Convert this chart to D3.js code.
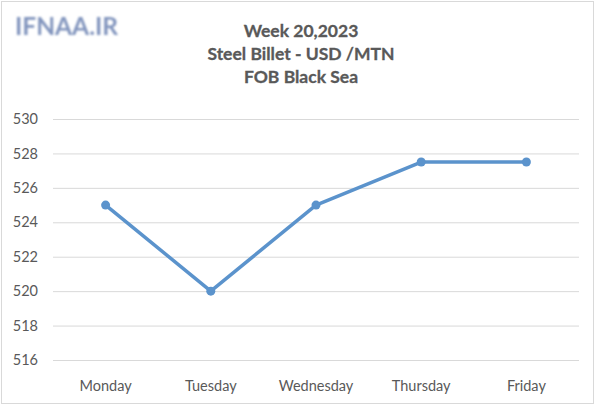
<!DOCTYPE html>
<html>
<head>
<meta charset="utf-8">
<script src="https://cdn.jsdelivr.net/npm/d3@7"></script>
<style>
  body { margin: 0; background: #fff; }
  svg { display: block; }
</style>
</head>
<body>
<div class="chart"></div>
<script>
var days = ['Monday', 'Tuesday', 'Wednesday', 'Thursday', 'Friday'];
var prices = [525, 520, 525, 527.5, 527.5];
var yTicks = [516, 518, 520, 522, 524, 526, 528, 530];
var titleLines = ['Week 20,2023', 'Steel Billet - USD /MTN', 'FOB Black Sea'];

var width = 600,
  height = 405,
  plotLeft = 53,
  plotRight = 579,
  plotTop = 119,
  plotBottom = 360;

var svgEl = d3
  .select('.chart')
  .append('svg')
  .attr('width', width)
  .attr('height', height);

// outer frame
svgEl
  .append('rect')
  .attr('x', 1.5)
  .attr('y', 1.5)
  .attr('width', 592)
  .attr('height', 402)
  .attr('fill', '#fff')
  .attr('stroke', '#d9d9d9');

// watermark
var defs = svgEl.append('defs');
defs
  .append('filter')
  .attr('id', 'blur')
  .append('feGaussianBlur')
  .attr('stdDeviation', 1);

svgEl
  .append('text')
  .attr('x', 15)
  .attr('y', 35)
  .attr('font-family', 'Lato, sans-serif')
  .attr('font-weight', 'bold')
  .attr('font-size', 24)
  .attr('textLength', 103)
  .attr('lengthAdjust', 'spacingAndGlyphs')
  .attr('fill', '#8194bd')
  .attr('filter', 'url(#blur)')
  .text('IFNAA.IR');

svgEl
  .append('g')
  .selectAll('text')
  .data(titleLines)
  .enter()
  .append('text')
  .attr('x', 301)
  .attr('y', (d, i) => 37 + i * 23)
  .attr('text-anchor', 'middle')
  .attr('font-family', 'Lato, sans-serif')
  .attr('font-weight', 'bold')
  .attr('font-size', 17.5)
  .attr('fill', '#595959')
  .attr('stroke', '#595959')
  .attr('stroke-width', 0.3)
  .text((d) => d);

var xScale = d3.scaleBand().domain(days).range([plotLeft, plotRight]);

var yScale = d3
  .scaleLinear()
  .domain([516, 530])
  .range([plotBottom, plotTop]);

var yAxis = d3
  .axisLeft(yScale)
  .tickValues(yTicks)
  .tickSize(-(plotRight - plotLeft))
  .tickPadding(15);

var yG = svgEl
  .append('g')
  .attr('transform', 'translate(' + plotLeft + ',0)')
  .call(yAxis);

yG.select('.domain').remove();
yG.selectAll('.tick line').attr('stroke', '#d9d9d9');
yG
  .selectAll('.tick text')
  .attr('font-family', 'Lato, sans-serif')
  .attr('font-size', 14.5)
  .attr('fill', '#595959');

var xAxis = d3.axisBottom(xScale).tickSize(0).tickPadding(21);

var xG = svgEl
  .append('g')
  .attr('transform', 'translate(0,' + plotBottom + ')')
  .call(xAxis);

xG.select('.domain').remove();
xG
  .selectAll('.tick text')
  .attr('font-family', 'Lato, sans-serif')
  .attr('font-size', 14.5)
  .attr('fill', '#595959');

var line = d3
  .line()
  .x((d, i) => xScale(days[i]) + xScale.bandwidth() / 2)
  .y((d) => yScale(d));

svgEl
  .append('path')
  .datum(prices)
  .attr('d', line)
  .attr('fill', 'none')
  .attr('stroke', '#5b93cc')
  .attr('stroke-width', 3.5)
  .attr('stroke-linejoin', 'round');

svgEl
  .selectAll('circle')
  .data(prices)
  .enter()
  .append('circle')
  .attr('cx', (d, i) => xScale(days[i]) + xScale.bandwidth() / 2)
  .attr('cy', (d) => yScale(d))
  .attr('r', 4.5)
  .attr('fill', '#5b93cc');
</script>
</body>
</html>
